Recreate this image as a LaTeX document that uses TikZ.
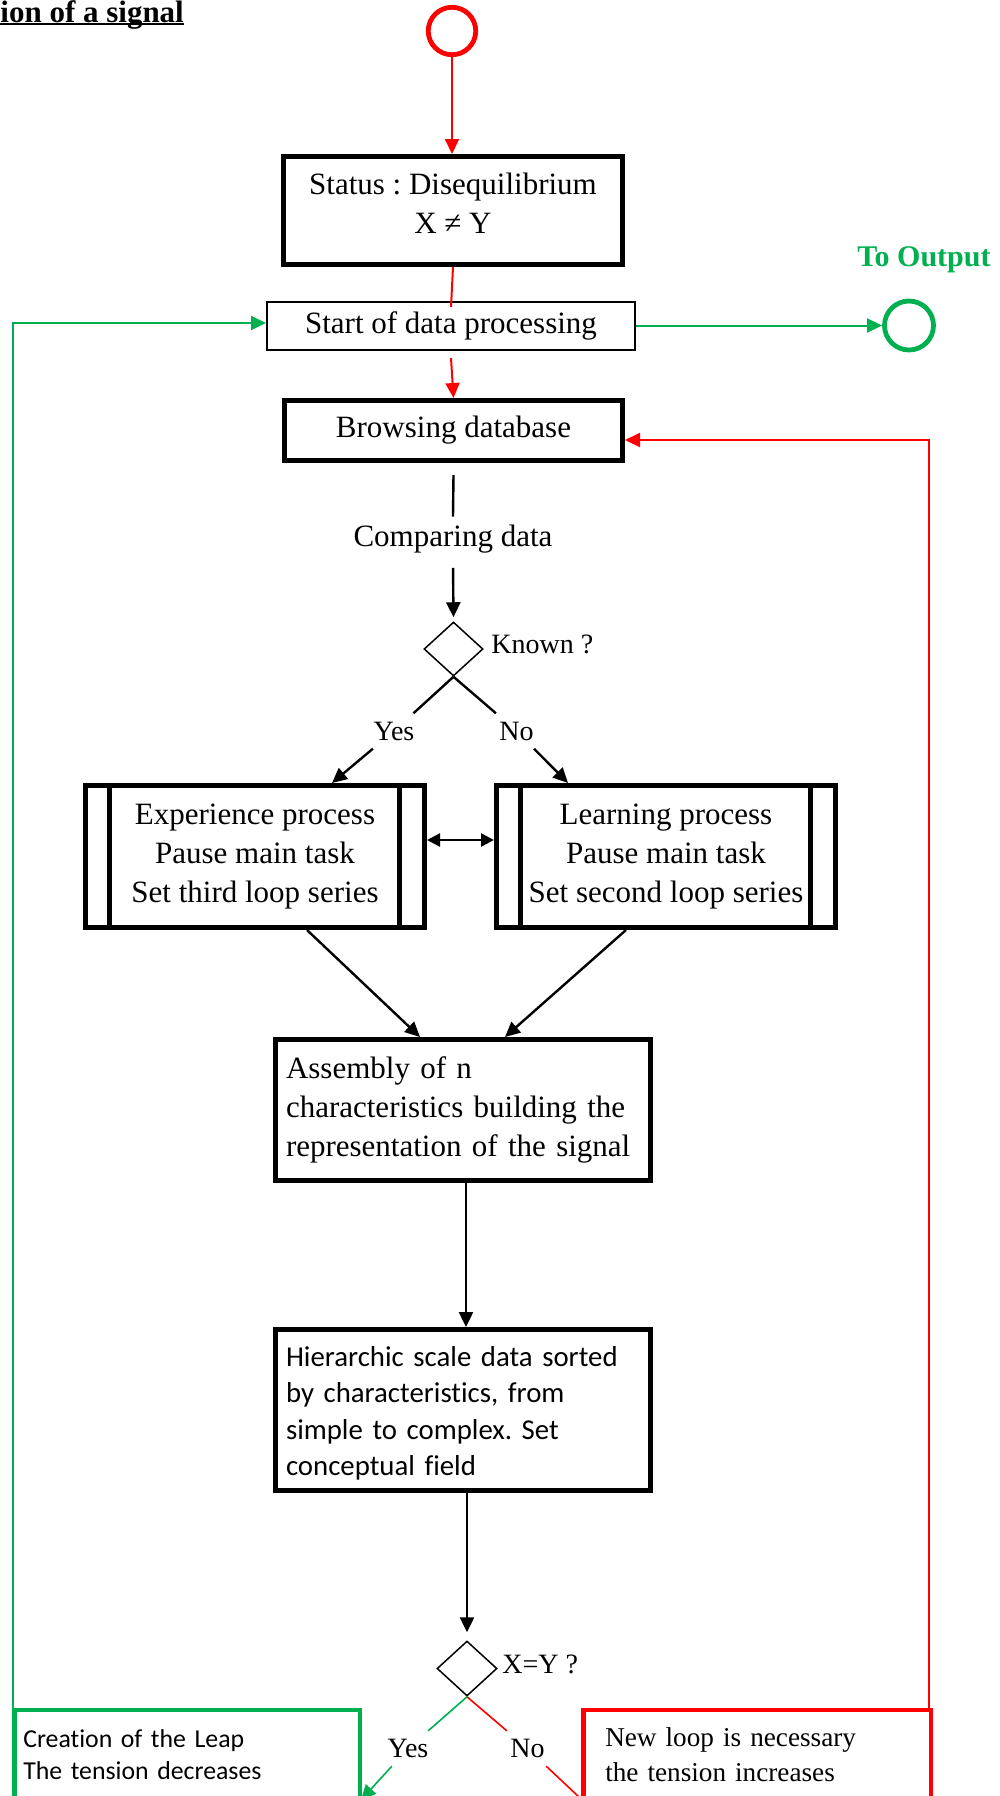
\documentclass[tikz,border=0pt]{standalone}
\usepackage{fontspec}
\setmainfont{Liberation Serif}
\newfontfamily\calibrifont[Ligatures=CommonOff]{Carlito}
\usetikzlibrary{arrows.meta,shapes.geometric}
\definecolor{flowred}{RGB}{255,0,0}
\definecolor{flowgreen}{RGB}{0,176,80}
\frenchspacing
\begin{document}
\begin{tikzpicture}[x=0.5pt,y=-0.5pt,
  mainfont/.style={font=\fontsize{15.5pt}{19.5pt}\selectfont},
  boldbox/.style={draw, line width=2.5pt, fill=white, align=center, inner sep=0pt, mainfont},
  thinbox/.style={draw, line width=1pt, fill=white, align=center, inner sep=0pt, mainfont},
  procbox/.style={boldbox, minimum width=169.5pt, minimum height=71pt},
  widebox/.style={boldbox, align=left, text width=177pt, inner xsep=5.25pt},
  decision/.style={draw, shape=diamond, line width=0.75pt, inner sep=0pt},
  lbl/.style={font=\fontsize{14pt}{16pt}\selectfont, inner sep=4pt},
  ring/.style={draw, circle, line width=2.4pt, inner sep=0pt},
  conn/.style={line width=1.2pt},
  arrowed/.style={-{Triangle[length=7.5pt,width=7pt]}},
  redline/.style={flowred, line width=1pt},
  greenline/.style={flowgreen, line width=1pt},
  thinred/.style={flowred, line width=0.8pt},
  thingreen/.style={flowgreen, line width=0.8pt}]
\useasboundingbox (0,0) rectangle (1000,1796);
\clip (0,0) rectangle (1000,1796);

% heading (underlined)
\node[font=\bfseries\fontsize{15.5pt}{19.5pt}\selectfont, anchor=base west, inner sep=0pt] (title) at (0,22) {ion of a signal};
\draw[line width=1.15pt] ([yshift=-1pt]title.base west) -- ([yshift=-1pt]title.base east);

% entry point and status
\node[ring, draw=flowred, minimum size=23.75pt] (entry) at (452,31) {};
\node[boldbox, minimum width=169.5pt, minimum height=54pt] (status) at (453,210.5)
  {Status : Disequilibrium\\X ≠ Y\rule[-7.5pt]{0pt}{7.5pt}};
\node[thinbox, minimum width=184pt, minimum height=24pt] (start) at (451,326) {Start of data processing};
\node[boldbox, minimum width=169pt, minimum height=30pt] (browse) at (453.5,430.5) {Browsing database};

% output
\node[font=\bfseries\fontsize{15pt}{18pt}\selectfont, text=flowgreen, inner sep=0pt] (outlabel) at (924,260) {To Output};
\node[ring, draw=flowgreen, minimum size=24.5pt] (out) at (909,325.5) {};

% comparison and first decision
\node[mainfont, inner sep=4pt] (cmp) at (453,539) {Comparing data};
\node[decision, minimum width=29.5pt, minimum height=27pt] (d1) at (453.5,649) {};
\node[lbl, anchor=west, inner sep=0pt] (known) at (491,644) {Known ?};
\node[lbl] (yes1) at (394,731) {Yes};
\node[lbl] (no1) at (516.5,731) {No};

% processes
\node[procbox] (exp) at (255,856.5) {Experience process\\Pause main task\\Set third loop series};
\node[procbox] (learn) at (666,856.5) {Learning process\\Pause main task\\Set second loop series};
\foreach \n in {exp,learn} {
  \draw[line width=2.5pt] ([xshift=13pt]\n.north west) -- ([xshift=13pt]\n.south west);
  \draw[line width=2.5pt] ([xshift=-14pt]\n.north east) -- ([xshift=-14pt]\n.south east);
}

% assembly and hierarchy
\node[widebox, minimum height=70.5pt] (asm) at (463,1110)
  {Assembly of n\\characteristics building the\\representation of the signal};
\node[widebox, minimum height=80.5pt, font=\calibrifont\fontsize{14.4pt}{18.25pt}\selectfont] (hier) at (463,1410)
  {\rule{0pt}{13.5pt}Hierarchic scale data sorted\\by characteristics, from\\simple to complex. Set\\conceptual field};

% second decision
\node[decision, minimum width=30pt, minimum height=27.5pt] (d2) at (467,1668.5) {};
\node[lbl, anchor=west, inner sep=0pt] (xy) at (502,1664) {X=Y ?};
\node[lbl] (yes2) at (408,1748.5) {Yes};
\node[lbl] (no2) at (527.5,1748.5) {No};

% outcomes
\node[draw=flowgreen, line width=2.25pt, fill=white, align=left, text width=163.75pt, inner xsep=4.5pt, inner ysep=0pt,
  minimum height=45pt, font=\calibrifont\fontsize{12.9pt}{16pt}\selectfont] (leap) at (187,1755)
  {Creation of the Leap\\The tension decreases};
\node[draw=flowred, line width=2.25pt, fill=white, align=left, text width=151.75pt, inner xsep=11pt, inner ysep=0pt,
  minimum height=45pt, font=\fontsize{13.6pt}{17.5pt}\selectfont] (loop) at (757,1755)
  {New loop is necessary\\the tension increases};
\coordinate (leapin) at (361,1800);
\coordinate (loopin) at (597,1814);

% red main flow
\draw[redline, arrowed] (entry.south) -- (entry.south |- status.north);
\draw[redline] (status.south) -- ([yshift=-3pt]start.north);
\draw[redline, arrowed] ([yshift=-3.5pt]start.south) -- (browse.north);

% green paths
\draw[greenline, arrowed] (start.east |- out.west) -- (out.west);
\draw[greenline, arrowed] ([xshift=0.5pt]leap.north west) |- ([yshift=1.5pt]start.west);

% red feedback loop
\draw[redline, arrowed] ([xshift=-2pt]loop.north east) |- ([yshift=-4.75pt]browse.east);

% black flow
\draw[conn] ([yshift=-6pt]browse.south) -- (cmp.north);
\draw[conn, arrowed, shorten <=3.2pt, shorten >=2pt] (cmp.south) -- (d1.north);
\draw[conn] (d1.south) -- (yes1);
\draw[conn] (d1.south) -- (no1);
\draw[conn, arrowed] (yes1) -- ([xshift=38.5pt]exp.north);
\draw[conn, arrowed] (no1) -- ([xshift=-49pt]learn.north);
\draw[conn, {Triangle[length=6.5pt,width=6.5pt]}-{Triangle[length=6.5pt,width=6.5pt]}] ([yshift=8.25pt]exp.east) -- ([yshift=8.25pt]learn.west);
\draw[conn, arrowed] ([xshift=26pt]exp.south) -- ([xshift=-21.5pt]asm.north);
\draw[conn, arrowed] ([xshift=-20pt]learn.south) -- ([xshift=21pt]asm.north);
\draw[conn, arrowed] ([xshift=1.5pt]asm.south) -- ([xshift=1.5pt]hier.north);
\draw[conn, arrowed, shorten >=4pt] ([xshift=2pt]hier.south) -- (d2.north);

% second decision branches
\draw[thingreen] (d2.south) -- (yes2);
\draw[thinred] (d2.south) -- (no2);
\draw[thingreen, arrowed] (yes2) -- (leapin);
\draw[thinred, arrowed] (no2) -- (loopin);
\end{tikzpicture}
\end{document}
